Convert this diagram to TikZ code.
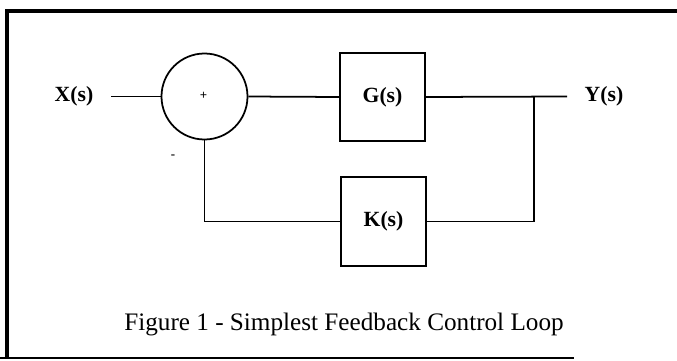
\documentclass[tikz,border=0pt]{standalone}
\usepackage{fontspec}
\setmainfont{Liberation Serif}
\begin{document}
\begin{tikzpicture}[x=0.03cm,y=-0.03cm,line width=1.5pt,
  blk/.style={draw,minimum width=2.55cm,minimum height=2.66cm,inner sep=0pt,font=\fontsize{18.5}{20}\selectfont\bfseries},
  sig/.style={font=\fontsize{18.5}{20}\selectfont\bfseries}]
\useasboundingbox (0,0) rectangle (677,360);
% frame
\draw[line width=4pt] (677,11)--(7,11)--(7,357);
\draw[line width=2.5pt] (0,358)--(574,358);
%
\node[draw,circle,minimum size=2.58cm,inner sep=0pt] (sum) at (204.5,96.5) {};
\node[font=\fontsize{11}{11}\selectfont\bfseries] (plus) at (203.5,95.5) {+};
\node[font=\fontsize{11}{11}\selectfont\bfseries] (minus) at (173,157) {-};
\node[blk] (G) at (382.5,97) {G(s)};
\node[blk] (K) at (383.5,221.5) {K(s)};
\node[sig] (X) at (74,96.5) {X(s)};
\node[sig] (Y) at (604,96.5) {Y(s)};
\coordinate (xin) at (111,96.5);
\coordinate (yout) at (567,96.5);
\coordinate (br) at (534,96.5);
%
\draw (xin)--(sum.west);
\draw (sum.east)--(G.west);
\draw (G.east)--(yout);
\draw (br)|-(K.east);
\draw (K.west)-|(sum.south);
%
\node[font=\fontsize{21.5}{24}\selectfont] (cap) at (344,324) {Figure 1 - Simplest Feedback Control Loop};
\end{tikzpicture}
\end{document}
